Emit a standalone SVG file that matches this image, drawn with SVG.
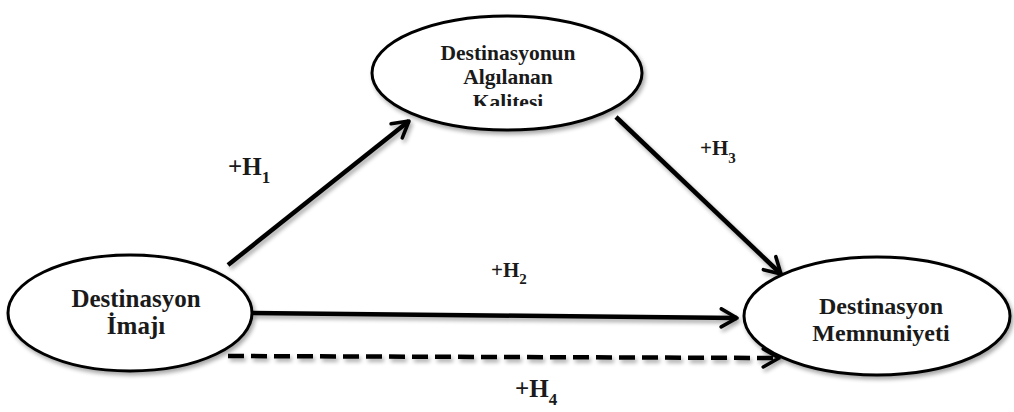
<svg xmlns="http://www.w3.org/2000/svg" width="1014" height="412" viewBox="0 0 1014 412">
<style>
.node{fill:#fff;stroke:#000;stroke-width:3;filter:url(#sh)}
.t{font-family:"Liberation Serif","DejaVu Serif",serif;font-weight:bold;fill:#1a1a1a;text-anchor:middle}
.c{fill:none;stroke:#000;stroke-width:4.5;filter:url(#sh)}
.lbl{font-family:"Liberation Serif","DejaVu Serif",serif;font-weight:bold;fill:#1a1a1a}
</style>
<defs>
<filter id="sh" filterUnits="userSpaceOnUse" x="0" y="0" width="1014" height="412">
<feGaussianBlur in="SourceAlpha" stdDeviation="2"/>
<feOffset dx="2" dy="3" result="b"/>
<feComponentTransfer><feFuncA type="linear" slope="0.35"/></feComponentTransfer>
<feMerge><feMergeNode/><feMergeNode in="SourceGraphic"/></feMerge>
</filter>
<marker id="ah" viewBox="0 0 10 10" refX="9" refY="5" markerWidth="5" markerHeight="5" orient="auto" markerUnits="strokeWidth">
<path d="M2,1 L9,5 L2,9" fill="none" stroke="#000" stroke-width="1.6" stroke-linecap="round" stroke-linejoin="round"/>
</marker>
<clipPath id="cq"><rect x="400" y="30" width="220" height="76"/></clipPath>
</defs>
<g id="connectors">
<line class="c" x1="228" y1="265" x2="409" y2="121" marker-end="url(#ah)"/>
<line class="c" x1="616" y1="117" x2="781" y2="274" marker-end="url(#ah)"/>
<line class="c" x1="252" y1="313" x2="737" y2="318" marker-end="url(#ah)"/>
<line class="c" x1="228" y1="356" x2="779" y2="358" stroke-dasharray="16,7" marker-end="url(#ah)"/>
</g>
<g id="node-quality">
<ellipse class="node" cx="507" cy="73" rx="135" ry="57"/>
<g clip-path="url(#cq)">
<text class="t" font-size="21.5" x="508" y="60">Destinasyonun</text>
<text class="t" font-size="21.5" x="508" y="84">Algılanan</text>
<text class="t" font-size="21.5" x="508" y="109">Kalitesi</text>
</g>
</g>
<g id="node-image">
<ellipse class="node" cx="130" cy="313" rx="122" ry="58"/>
<text class="t" font-size="25" x="136" y="307">Destinasyon</text>
<text class="t" font-size="25" x="136" y="334">İmajı</text>
</g>
<g id="node-satisfaction">
<ellipse class="node" cx="877" cy="316" rx="133" ry="59"/>
<text class="t" font-size="24" x="881" y="314">Destinasyon</text>
<text class="t" font-size="24" x="881" y="341">Memnuniyeti</text>
</g>
<g id="labels">
<text class="lbl" font-size="25" x="228" y="175">+H<tspan font-size="17" dy="8">1</tspan></text>
<text class="lbl" font-size="21" x="700" y="155">+H<tspan font-size="15" dy="8">3</tspan></text>
<text class="lbl" font-size="21" x="491" y="277">+H<tspan font-size="15" dy="7">2</tspan></text>
<text class="lbl" font-size="25" x="515" y="397">+H<tspan font-size="17" dy="8">4</tspan></text>
</g>
</svg>
